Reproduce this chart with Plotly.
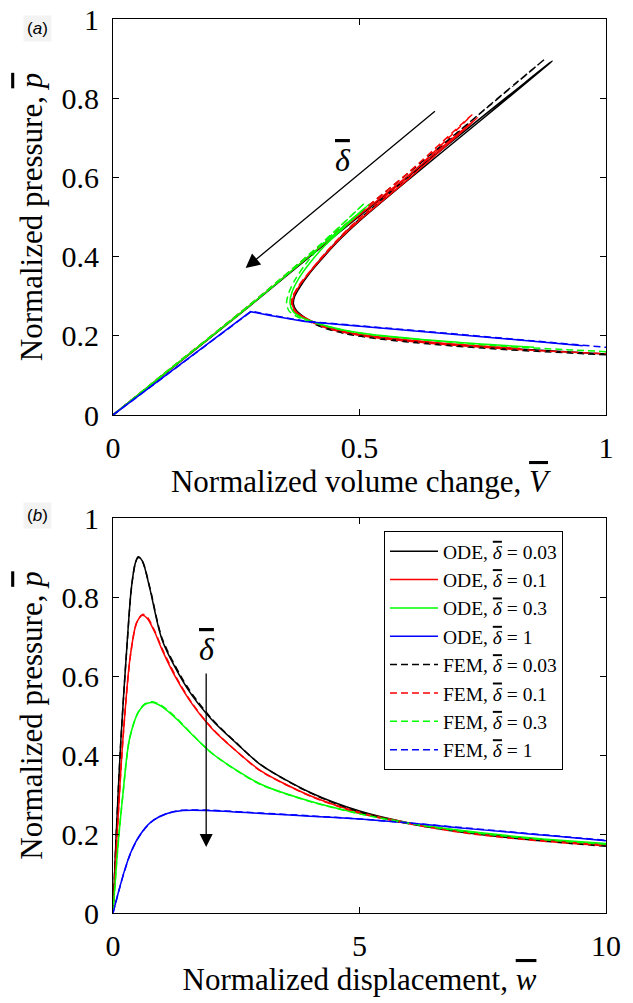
import plotly.graph_objects as go

# ---------------- Panel (a): pressure vs volume change ----------------
a_ode_003_v = [0, 0.1, 0.279, 0.45, 0.6, 0.75, 0.891, 0.75, 0.6, 0.5, 0.46, 0.43, 0.40, 0.38, 0.368, 0.366, 0.372, 0.385, 0.40, 0.43, 0.47, 0.522, 0.654, 0.787, 0.92, 1.0]
a_ode_003_p = [0, 0.099, 0.277, 0.452, 0.603, 0.754, 0.894, 0.748, 0.595, 0.49, 0.443, 0.403, 0.36, 0.325, 0.298, 0.28, 0.264, 0.25, 0.238, 0.222, 0.209, 0.198, 0.181, 0.169, 0.160, 0.154]
a_fem_003_v = [0, 0.1, 0.279, 0.45, 0.6, 0.75, 0.876, 0.74, 0.6, 0.5, 0.46, 0.43, 0.40, 0.38, 0.367, 0.365, 0.371, 0.385, 0.40, 0.43, 0.47, 0.522, 0.654, 0.787, 0.92, 1.0]
a_fem_003_p = [0, 0.100, 0.279, 0.458, 0.612, 0.767, 0.899, 0.757, 0.602, 0.495, 0.447, 0.406, 0.362, 0.326, 0.298, 0.279, 0.262, 0.247, 0.235, 0.219, 0.206, 0.195, 0.178, 0.166, 0.157, 0.152]

a_ode_01_v = [0, 0.1, 0.279, 0.45, 0.6, 0.74, 0.6, 0.5, 0.46, 0.43, 0.40, 0.378, 0.366, 0.364, 0.37, 0.383, 0.40, 0.43, 0.47, 0.522, 0.654, 0.787, 0.827]
a_ode_01_p = [0, 0.1, 0.278, 0.455, 0.606, 0.752, 0.597, 0.492, 0.445, 0.405, 0.362, 0.326, 0.298, 0.279, 0.263, 0.25, 0.239, 0.224, 0.211, 0.200, 0.183, 0.171, 0.168]
a_fem_01_v = [0, 0.1, 0.279, 0.45, 0.6, 0.728, 0.6, 0.5, 0.46, 0.43, 0.40, 0.377, 0.364, 0.362, 0.368, 0.382, 0.40, 0.43, 0.47, 0.522, 0.654, 0.787, 0.92, 1.0]
a_fem_01_p = [0, 0.101, 0.280, 0.459, 0.613, 0.758, 0.604, 0.497, 0.449, 0.408, 0.364, 0.327, 0.298, 0.278, 0.261, 0.248, 0.236, 0.221, 0.208, 0.197, 0.180, 0.168, 0.159, 0.155]

a_ode_03_v = [0, 0.1, 0.279, 0.42, 0.52, 0.47, 0.43, 0.40, 0.377, 0.363, 0.359, 0.365, 0.38, 0.40, 0.43, 0.47, 0.522, 0.654, 0.787, 0.854]
a_ode_03_p = [0, 0.1, 0.278, 0.425, 0.533, 0.475, 0.428, 0.385, 0.345, 0.31, 0.283, 0.262, 0.248, 0.238, 0.226, 0.214, 0.204, 0.188, 0.176, 0.171]
a_fem_03_v = [0, 0.1, 0.279, 0.42, 0.51, 0.46, 0.42, 0.39, 0.37, 0.357, 0.352, 0.357, 0.372, 0.395, 0.43, 0.47, 0.522, 0.654, 0.787, 0.92, 1.0]
a_fem_03_p = [0, 0.101, 0.280, 0.43, 0.535, 0.475, 0.425, 0.38, 0.343, 0.31, 0.283, 0.263, 0.249, 0.238, 0.225, 0.213, 0.203, 0.187, 0.174, 0.165, 0.160]

a_ode_1_v = [0, 0.279, 0.316, 0.389, 0.654, 0.953]
a_ode_1_p = [0, 0.261, 0.252, 0.236, 0.208, 0.175]
a_fem_1_v = [0, 0.281, 0.318, 0.389, 0.654, 0.953, 1.0]
a_fem_1_p = [0, 0.262, 0.253, 0.237, 0.209, 0.176, 0.171]

# ---------------- Panel (b): pressure vs displacement ----------------
b_ode_003_w = [0, 0.06, 0.16, 0.29, 0.37, 0.45, 0.51, 0.6, 0.75, 1.0, 1.5, 2.0, 2.5, 3.0, 4.0, 5.0, 6.0, 7.0, 8.0, 9.0, 10.0]
b_ode_003_p = [0, 0.185, 0.44, 0.69, 0.82, 0.885, 0.902, 0.89, 0.82, 0.69, 0.57, 0.49, 0.43, 0.375, 0.305, 0.258, 0.228, 0.208, 0.194, 0.182, 0.172]
b_fem_003_w = [0, 0.06, 0.16, 0.29, 0.37, 0.45, 0.51, 0.6, 0.75, 1.0, 1.5, 2.0, 2.5, 3.0, 4.0, 5.0, 6.0, 7.0, 8.0, 9.0, 10.0]
b_fem_003_p = [0, 0.183, 0.437, 0.688, 0.818, 0.884, 0.900, 0.889, 0.823, 0.694, 0.574, 0.492, 0.431, 0.375, 0.304, 0.256, 0.226, 0.206, 0.191, 0.179, 0.169]

b_ode_01_w = [0, 0.07, 0.2, 0.35, 0.48, 0.6, 0.7, 0.85, 1.0, 1.3, 1.6, 2.0, 2.5, 3.0, 4.0, 5.0, 6.0, 7.0, 8.0, 9.0, 10.0]
b_ode_01_p = [0, 0.17, 0.438, 0.65, 0.735, 0.754, 0.745, 0.71, 0.665, 0.59, 0.53, 0.468, 0.41, 0.36, 0.297, 0.255, 0.228, 0.207, 0.192, 0.181, 0.172]
b_fem_01_w = [0, 0.07, 0.2, 0.35, 0.48, 0.6, 0.7, 0.85, 1.0, 1.3, 1.6, 2.0, 2.5, 3.0, 4.0, 5.0, 6.0, 7.0, 8.0, 9.0, 10.0]
b_fem_01_p = [0, 0.168, 0.436, 0.648, 0.735, 0.756, 0.748, 0.713, 0.668, 0.593, 0.532, 0.469, 0.41, 0.359, 0.296, 0.253, 0.226, 0.205, 0.19, 0.179, 0.170]

b_ode_03_w = [0, 0.1, 0.2, 0.33, 0.5, 0.65, 0.8, 1.0, 1.3, 1.6, 2.0, 2.5, 3.0, 4.0, 5.0, 6.0, 7.0, 8.0, 9.0, 10.0]
b_ode_03_p = [0, 0.17, 0.3, 0.438, 0.505, 0.528, 0.533, 0.522, 0.49, 0.452, 0.405, 0.362, 0.326, 0.283, 0.252, 0.228, 0.21, 0.196, 0.185, 0.176]
b_fem_03_w = [0, 0.1, 0.2, 0.33, 0.5, 0.65, 0.8, 1.0, 1.3, 1.6, 2.0, 2.5, 3.0, 4.0, 5.0, 6.0, 7.0, 8.0, 9.0, 10.0]
b_fem_03_p = [0, 0.168, 0.298, 0.437, 0.506, 0.530, 0.535, 0.524, 0.492, 0.453, 0.405, 0.361, 0.325, 0.282, 0.251, 0.227, 0.208, 0.194, 0.183, 0.174]

b_ode_1_w = [0, 0.13, 0.23, 0.35, 0.47, 0.6, 0.7, 0.83, 1.1, 1.38, 2.0, 3.0, 4.0, 5.0, 6.0, 7.0, 8.0, 9.0, 10.0]
b_ode_1_p = [0, 0.062, 0.106, 0.150, 0.182, 0.207, 0.222, 0.236, 0.252, 0.259, 0.259, 0.252, 0.245, 0.238, 0.228, 0.216, 0.205, 0.194, 0.183]
b_fem_1_w = [0, 0.13, 0.23, 0.35, 0.47, 0.6, 0.7, 0.83, 1.1, 1.38, 2.0, 3.0, 4.0, 5.0, 6.0, 7.0, 8.0, 9.0, 10.0]
b_fem_1_p = [0, 0.061, 0.105, 0.149, 0.181, 0.206, 0.221, 0.236, 0.252, 0.260, 0.260, 0.253, 0.246, 0.238, 0.228, 0.217, 0.206, 0.195, 0.184]

delta_labels = ["0.03", "0.1", "0.3", "1"]
colors = ["#000000", "#ff0000", "#00ff00", "#0000ff"]

a_x_ticks = [0, 0.5, 1]
a_x_ticktext = ["0", "0.5", "1"]
b_x_ticks = [0, 5, 10]
b_x_ticktext = ["0", "5", "10"]
y_ticks = [0, 0.2, 0.4, 0.6, 0.8, 1.0]
y_ticktext = ["0", "0.2", "0.4", "0.6", "0.8", "1"]

SERIF = "Times New Roman, Liberation Serif, serif"


def ov(ch):
    return f'<span style="text-decoration:overline"><i>{ch}</i></span>'


DELTA = ov("\u03b4")
DASH = "7px,4px"
LW = 1.5

fig = go.Figure()

a_series = [
    (a_ode_003_v, a_ode_003_p, a_fem_003_v, a_fem_003_p),
    (a_ode_01_v, a_ode_01_p, a_fem_01_v, a_fem_01_p),
    (a_ode_03_v, a_ode_03_p, a_fem_03_v, a_fem_03_p),
    (a_ode_1_v, a_ode_1_p, a_fem_1_v, a_fem_1_p),
]
for i, (ovv, op, fv, fp) in enumerate(a_series):
    shape = "linear" if i == 3 else "spline"
    fig.add_trace(go.Scatter(x=fv, y=fp, mode="lines", xaxis="x", yaxis="y",
                             line=dict(color=colors[i], width=LW, dash=DASH, shape=shape, smoothing=0.8),
                             showlegend=False, hoverinfo="skip"))
    fig.add_trace(go.Scatter(x=ovv, y=op, mode="lines", xaxis="x", yaxis="y",
                             line=dict(color=colors[i], width=LW, shape=shape, smoothing=0.8),
                             showlegend=False, hoverinfo="skip"))

b_ode = [(b_ode_003_w, b_ode_003_p), (b_ode_01_w, b_ode_01_p), (b_ode_03_w, b_ode_03_p), (b_ode_1_w, b_ode_1_p)]
b_fem = [(b_fem_003_w, b_fem_003_p), (b_fem_01_w, b_fem_01_p), (b_fem_03_w, b_fem_03_p), (b_fem_1_w, b_fem_1_p)]
for i, (w, p) in enumerate(b_ode):
    fig.add_trace(go.Scatter(x=w, y=p, mode="lines", xaxis="x2", yaxis="y2",
                             name=f"ODE, {DELTA} = {delta_labels[i]}",
                             line=dict(color=colors[i], width=LW, shape="spline", smoothing=0.8)))
for i, (w, p) in enumerate(b_fem):
    fig.add_trace(go.Scatter(x=w, y=p, mode="lines", xaxis="x2", yaxis="y2",
                             name=f"FEM, {DELTA} = {delta_labels[i]}",
                             line=dict(color=colors[i], width=LW, dash=DASH, shape="spline", smoothing=0.8)))

W, H = 633, 1003
xdom = [113 / W, 606 / W]
ya_dom = [1 - 415 / H, 1 - 19 / H]
yb_dom = [1 - 913 / H, 1 - 518 / H]

tickfont = dict(family=SERIF, size=30, color="black")
titlefont = dict(family=SERIF, size=31, color="black")
common = dict(showline=True, linecolor="black", linewidth=1, mirror="ticks", ticks="inside",
              ticklen=6, tickwidth=1, tickcolor="black", showgrid=False, zeroline=False,
              tickfont=tickfont, automargin=False)

fig.update_layout(
    width=W, height=H,
    margin=dict(l=0, r=0, t=0, b=0),
    paper_bgcolor="white", plot_bgcolor="white",
    xaxis=dict(domain=xdom, anchor="y", range=[0, 1], tickvals=a_x_ticks, ticktext=a_x_ticktext,
               title=dict(text=f"Normalized volume change, {ov('V')}", font=titlefont, standoff=3),
               ticklabelstandoff=6, **common),
    yaxis=dict(domain=ya_dom, anchor="x", range=[0, 1], tickvals=y_ticks, ticktext=y_ticktext,
               title=dict(text=f"Normalized pressure, {ov('p')}", font=titlefont, standoff=9),
               ticklabelstandoff=7, **common),
    xaxis2=dict(domain=xdom, anchor="y2", range=[0, 10], tickvals=b_x_ticks, ticktext=b_x_ticktext,
                title=dict(text=f"Normalized displacement, {ov('w')}", font=titlefont, standoff=3),
                ticklabelstandoff=6, **common),
    yaxis2=dict(domain=yb_dom, anchor="x2", range=[0, 1], tickvals=y_ticks, ticktext=y_ticktext,
                title=dict(text=f"Normalized pressure, {ov('p')}", font=titlefont, standoff=9),
                ticklabelstandoff=7, **common),
    legend=dict(x=384 / W, y=1 - 531 / H, xanchor="left", yanchor="top",
                bgcolor="white", bordercolor="black", borderwidth=1,
                font=dict(family=SERIF, size=19.5, color="black"),
                itemwidth=48, tracegroupgap=0),
    showlegend=True,
)

# arrows and delta labels
fig.add_annotation(x=0.269, y=0.371, ax=0.656, ay=0.770, xref="x", yref="y", axref="x", ayref="y",
                   showarrow=True, arrowhead=2, arrowsize=2.2, arrowwidth=1.3, arrowcolor="black", text="")
fig.add_annotation(x=0.466, y=0.645, xref="x", yref="y", text=DELTA, showarrow=False,
                   font=dict(family=SERIF, size=32, color="black"))
fig.add_annotation(x=1.89, y=0.167, ax=1.89, ay=0.61, xref="x2", yref="y2", axref="x2", ayref="y2",
                   showarrow=True, arrowhead=2, arrowsize=2.0, arrowwidth=1.3, arrowcolor="black", text="")
fig.add_annotation(x=1.91, y=0.668, xref="x2", yref="y2", text=DELTA, showarrow=False,
                   font=dict(family=SERIF, size=32, color="black"))

# panel labels
for lab, yy in [("a", 15), ("b", 515)]:
    fig.add_annotation(x=23 / W, y=1 - yy / H, xref="paper", yref="paper", text=f"(<i>{lab}</i>)",
                       showarrow=False, bgcolor="#f3f3f3", borderpad=3,
                       font=dict(family="Liberation Sans, Arial, sans-serif", size=17, color="black"))

fig.write_html("out.html", config={"displayModeBar": False},
               post_script="document.body.style.margin='0';")
